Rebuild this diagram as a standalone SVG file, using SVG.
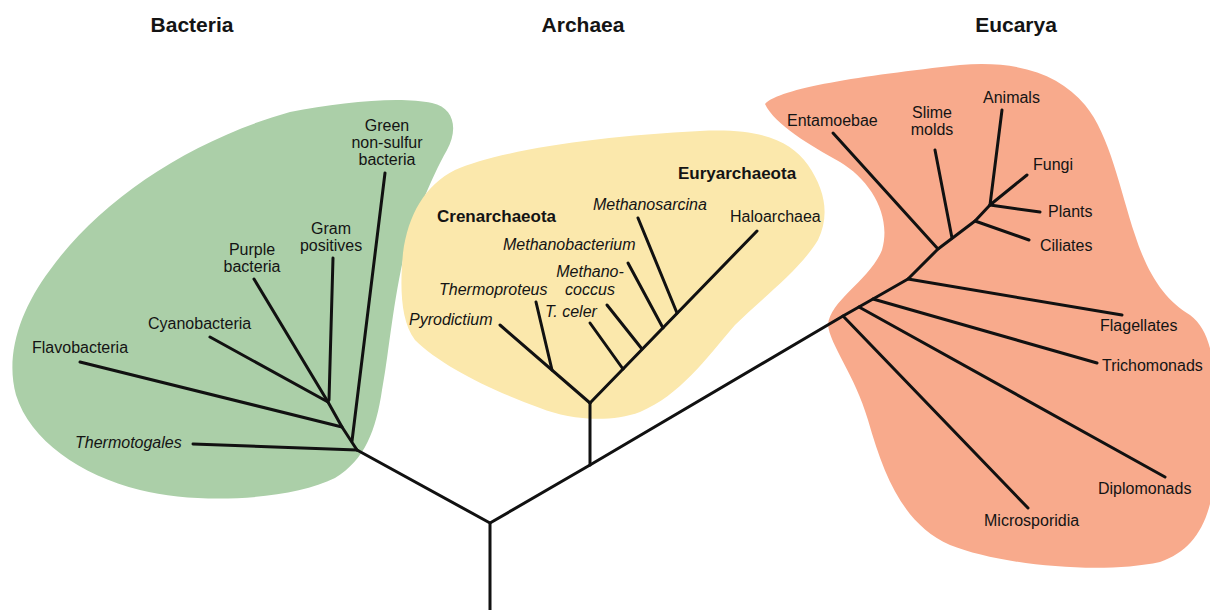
<svg xmlns="http://www.w3.org/2000/svg" width="1210" height="610" viewBox="0 0 1210 610">
<style>
.t{font-family:"Liberation Sans",Arial,Helvetica,sans-serif;font-size:16px;fill:#141414}
.i{font-style:italic}
.b{font-weight:bold;font-size:17px}
.h{font-weight:bold;font-size:21px;text-anchor:middle}
.m{text-anchor:middle}
.br{fill:none;stroke:#111;stroke-width:3;stroke-linecap:round;stroke-linejoin:round}
</style>
<rect width="1210" height="610" fill="#ffffff"/>
<g id="blobs">
<path id="bacteria-blob" fill="#abcfa8" d="M 290,112 C 340,102 400,96 432,103 C 455,108 458,130 447,150 C 430,180 410,230 403,260 C 392,310 388,360 382,390 C 376,430 365,460 335,478 C 290,500 200,505 140,490 C 80,475 30,440 16,395 C 5,355 20,310 50,270 C 100,200 190,140 290,112 Z"/>
<path id="archaea-blob" fill="#fbe8ac" d="M 403,253 C 408,215 425,185 455,170 C 500,150 600,136 700,131 C 760,128 790,140 808,165 C 825,190 830,215 818,240 C 800,270 760,300 735,325 C 705,360 680,395 640,412 C 610,423 570,420 540,408 C 490,390 440,365 415,340 C 400,320 400,285 403,253 Z"/>
<path id="eucarya-blob" fill="#f8aa8c" d="M 765,104 C 780,88 860,76 960,65 C 1020,60 1060,75 1085,105 C 1110,135 1120,190 1135,235 C 1148,275 1165,300 1190,315 C 1210,330 1215,360 1215,400 L 1215,470 C 1212,520 1195,550 1160,562 C 1100,575 1000,565 950,545 C 905,525 885,480 868,420 C 855,375 830,345 828,325 C 830,300 870,280 882,250 C 892,215 870,180 840,162 C 810,145 775,125 765,104 Z"/>
</g>
<g id="connectors" class="br">
<polyline points="490,610 490,523 357,450"/>
<polyline points="490,523 590,465 843,316 873,299 908,279 938,249 975,221 990,205 1027,175"/>
<line x1="357" y1="450" x2="193" y2="444"/>
<line x1="352" y1="441" x2="385" y2="173"/>
<polyline points="357,450 342,427 328,402"/>
<line x1="342" y1="427" x2="80" y2="362"/>
<line x1="328" y1="402" x2="210" y2="337"/>
<line x1="328" y1="402" x2="254" y2="279"/>
<line x1="329" y1="400" x2="333" y2="258"/>
<line x1="590" y1="465" x2="590" y2="403"/>
<line x1="590" y1="403" x2="500" y2="325"/>
<line x1="552" y1="370" x2="536" y2="302"/>
<line x1="590" y1="403" x2="757" y2="231"/>
<line x1="623" y1="369" x2="590" y2="323"/>
<line x1="642" y1="349" x2="607" y2="305"/>
<line x1="663" y1="328" x2="628" y2="263"/>
<line x1="677" y1="313" x2="638" y2="218"/>
<line x1="843" y1="316" x2="1028" y2="508"/>
<line x1="859" y1="307" x2="1165" y2="477"/>
<line x1="873" y1="299" x2="1097" y2="363"/>
<line x1="908" y1="279" x2="1122" y2="315"/>
<line x1="938" y1="249" x2="833" y2="133"/>
<line x1="952" y1="238" x2="935" y2="150"/>
<line x1="975" y1="221" x2="1029" y2="240"/>
<line x1="990" y1="205" x2="1002" y2="110"/>
<line x1="990" y1="205" x2="1040" y2="212"/>
</g>
<g id="titles">
<text class="t h" x="192" y="32">Bacteria</text>
<text class="t h" x="583" y="32">Archaea</text>
<text class="t h" x="1016" y="32">Eucarya</text>
</g>
<g id="bacteria-labels">
<g id="green-nonsulfur"><text class="t m" x="387" y="131">Green</text><text class="t m" x="387" y="148">non-sulfur</text><text class="t m" x="387" y="165">bacteria</text></g>
<g id="gram-positives"><text class="t m" x="331" y="234">Gram</text><text class="t m" x="331" y="251">positives</text></g>
<g id="purple-bacteria"><text class="t m" x="252" y="255">Purple</text><text class="t m" x="252" y="272">bacteria</text></g>
<g id="cyanobacteria"><text class="t" x="148" y="329">Cyanobacteria</text></g>
<g id="flavobacteria"><text class="t" x="32" y="353">Flavobacteria</text></g>
<g id="thermotogales"><text class="t i" x="75" y="448">Thermotogales</text></g>
</g>
<g id="archaea-labels">
<g id="euryarchaeota"><text class="t b" x="678" y="179">Euryarchaeota</text></g>
<g id="crenarchaeota"><text class="t b" x="437" y="222">Crenarchaeota</text></g>
<g id="methanosarcina"><text class="t i" x="593" y="210">Methanosarcina</text></g>
<g id="haloarchaea"><text class="t" x="730" y="222">Haloarchaea</text></g>
<g id="methanobacterium"><text class="t i" x="503" y="250">Methanobacterium</text></g>
<g id="methanococcus"><text class="t i m" x="590" y="277">Methano-</text><text class="t i m" x="590" y="295">coccus</text></g>
<g id="thermoproteus"><text class="t i" x="439" y="295">Thermoproteus</text></g>
<g id="t-celer"><text class="t i" x="545" y="317">T. celer</text></g>
<g id="pyrodictium"><text class="t i" x="409" y="325">Pyrodictium</text></g>
</g>
<g id="eucarya-labels">
<g id="entamoebae"><text class="t" x="787" y="126">Entamoebae</text></g>
<g id="slime-molds"><text class="t m" x="932" y="118">Slime</text><text class="t m" x="932" y="135">molds</text></g>
<g id="animals"><text class="t" x="983" y="103">Animals</text></g>
<g id="fungi"><text class="t" x="1033" y="170">Fungi</text></g>
<g id="plants"><text class="t" x="1048" y="217">Plants</text></g>
<g id="ciliates"><text class="t" x="1040" y="251">Ciliates</text></g>
<g id="flagellates"><text class="t" x="1100" y="331">Flagellates</text></g>
<g id="trichomonads"><text class="t" x="1102" y="371">Trichomonads</text></g>
<g id="diplomonads"><text class="t" x="1098" y="494">Diplomonads</text></g>
<g id="microsporidia"><text class="t" x="984" y="526">Microsporidia</text></g>
</g>
</svg>
